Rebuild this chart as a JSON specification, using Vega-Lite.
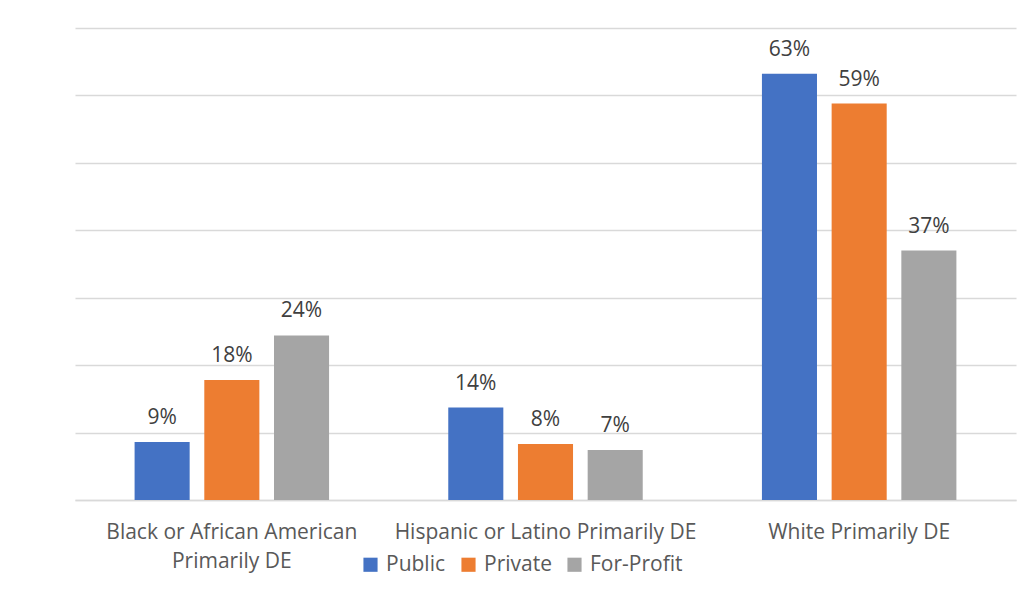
{
  "$schema": "https://vega.github.io/schema/vega-lite/v6.json",
  "width": 941,
  "height": 472,
  "autosize": "none",
  "padding": {"left": 75, "top": 28, "right": 6, "bottom": 99},
  "background": "white",
  "data": {
    "values": [
      {"group": "Black or African American Primarily DE", "sector": "Public", "share": 0.086},
      {"group": "Black or African American Primarily DE", "sector": "Private", "share": 0.178},
      {"group": "Black or African American Primarily DE", "sector": "For-Profit", "share": 0.244},
      {"group": "Hispanic or Latino Primarily DE", "sector": "Public", "share": 0.137},
      {"group": "Hispanic or Latino Primarily DE", "sector": "Private", "share": 0.083},
      {"group": "Hispanic or Latino Primarily DE", "sector": "For-Profit", "share": 0.074},
      {"group": "White Primarily DE", "sector": "Public", "share": 0.632},
      {"group": "White Primarily DE", "sector": "Private", "share": 0.588},
      {"group": "White Primarily DE", "sector": "For-Profit", "share": 0.37}
    ]
  },
  "encoding": {
    "x": {
      "field": "group",
      "type": "nominal",
      "sort": null,
      "scale": {"paddingInner": 0.38, "paddingOuter": 0.19},
      "axis": {
        "title": null,
        "labelAngle": 0,
        "labelFont": "Open Sans",
        "labelFontSize": 21,
        "labelColor": "#595959",
        "labelPadding": 21,
        "labelLineHeight": 29,
        "labelLimit": 400,
        "labelExpr": "datum.label == 'Black or African American Primarily DE' ? ['Black or African American', 'Primarily DE'] : datum.label",
        "ticks": false,
        "domainColor": "#d9d9d9",
        "domainWidth": 1.5
      }
    },
    "xOffset": {
      "field": "sector",
      "type": "nominal",
      "sort": ["Public", "Private", "For-Profit"],
      "scale": {"paddingInner": 0.21, "paddingOuter": 0}
    },
    "y": {
      "field": "share",
      "type": "quantitative",
      "scale": {"domain": [0, 0.7], "nice": false},
      "axis": {
        "title": null,
        "labels": false,
        "ticks": false,
        "domain": false,
        "values": [0, 0.1, 0.2, 0.3, 0.4, 0.5, 0.6, 0.7],
        "gridColor": "#d9d9d9",
        "gridWidth": 1.5
      }
    }
  },
  "layer": [
    {
      "mark": {"type": "bar"},
      "encoding": {
        "color": {
          "field": "sector",
          "type": "nominal",
          "sort": ["Public", "Private", "For-Profit"],
          "scale": {"domain": ["Public", "Private", "For-Profit"], "range": ["#4472C4", "#ED7D31", "#A5A5A5"]},
          "legend": {
            "title": null,
            "orient": "none",
            "direction": "horizontal",
            "legendX": 285,
            "legendY": 526,
            "symbolType": "square",
            "symbolSize": 200,
            "symbolStrokeWidth": 0,
            "labelFont": "Open Sans",
            "labelFontSize": 21,
            "labelColor": "#595959",
            "labelOffset": 5,
            "columnPadding": 12
          }
        }
      }
    },
    {
      "mark": {"type": "text", "baseline": "bottom", "dy": -14, "font": "Open Sans", "fontSize": 21, "color": "#404040"},
      "encoding": {
        "text": {"field": "share", "type": "quantitative", "format": ".0%"}
      }
    }
  ],
  "config": {"view": {"stroke": null}}
}
